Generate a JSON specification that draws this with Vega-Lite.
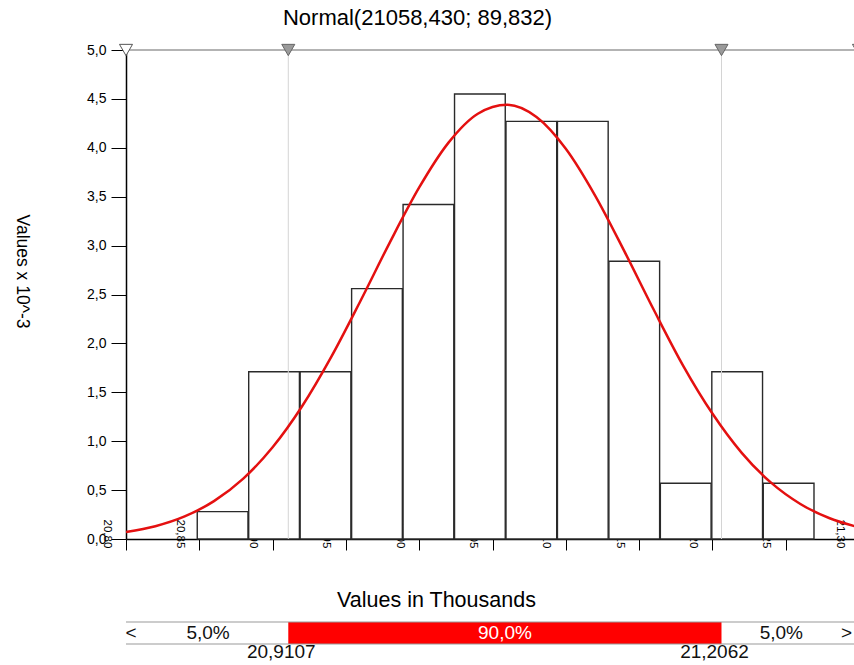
{
  "$schema": "https://vega.github.io/schema/vega-lite/v6.json",
  "padding": {"left": 12, "top": 7, "right": 0, "bottom": 0},
  "background": "white",
  "config": {
    "font": "Liberation Sans",
    "view": {"stroke": null},
    "axis": {"labelColor": "#000", "titleColor": "#000", "domainColor": "#000", "tickColor": "#000", "grid": false, "titleFontWeight": "normal", "labelFont": "Liberation Sans", "titleFont": "Liberation Sans"}
  },
  "spacing": 83,
  "bounds": "flush",
  "vconcat": [
    {
      "width": 733,
      "height": 489,
      "title": {"text": "Normal(21058,430; 89,832)", "fontSize": 22, "fontWeight": "normal", "frame": "group", "anchor": "middle", "dx": -75, "offset": 12, "color": "#000"},
      "layer": [
        {
          "data": {"values": [
            {"x0": 20.8486, "x1": 20.8832, "h": 0.28},
            {"x0": 20.8837, "x1": 20.9183, "h": 1.71},
            {"x0": 20.9188, "x1": 20.9534, "h": 1.71},
            {"x0": 20.9539, "x1": 20.9885, "h": 2.56},
            {"x0": 20.9890, "x1": 21.0236, "h": 3.42},
            {"x0": 21.0241, "x1": 21.0587, "h": 4.55},
            {"x0": 21.0592, "x1": 21.0938, "h": 4.27},
            {"x0": 21.0943, "x1": 21.1289, "h": 4.27},
            {"x0": 21.1294, "x1": 21.1640, "h": 2.84},
            {"x0": 21.1645, "x1": 21.1991, "h": 0.57},
            {"x0": 21.1996, "x1": 21.2342, "h": 1.71},
            {"x0": 21.2347, "x1": 21.2693, "h": 0.57}
          ]},
          "mark": {"type": "rect", "fill": "white", "stroke": "#2a2a2a", "strokeWidth": 1.4},
          "encoding": {
            "x": {"field": "x0", "type": "quantitative", "scale": {"domain": [20.8, 21.3], "nice": false, "zero": false},
              "axis": {
                "values": [20.8, 20.85, 20.9, 20.95, 21, 21.05, 21.1, 21.15, 21.2, 21.25, 21.3],
                "labelExpr": "replace(format(datum.value, '.2f'), '.', ',')",
                "labelAngle": 90, "labelAlign": "left", "labelBaseline": "middle", "labelFontSize": 11.5,
                "labelPadding": -31, "labelOffset": -20, "tickSize": 11,
                "labelOverlap": false, "labelBound": false, "labelFlush": false,
                "title": "Values in Thousands", "titleFontSize": 21.5, "titleX": 310, "titleY": 61,
                "titleBaseline": "middle", "titleAlign": "center", "domainWidth": 1.5
              }},
            "x2": {"field": "x1"},
            "y": {"field": "h", "type": "quantitative", "scale": {"domain": [0, 5], "nice": false},
              "axis": {
                "values": [0, 0.5, 1, 1.5, 2, 2.5, 3, 3.5, 4, 4.5, 5],
                "labelExpr": "replace(format(datum.value, '.1f'), '.', ',')",
                "labelFontSize": 14, "tickSize": 15, "labelPadding": 5,
                "title": "Values x 10^-3", "titleAngle": 90, "titleFontSize": 17.5,
                "titleX": -105, "titleY": 221, "titleAlign": "center", "titleBaseline": "middle",
                "domainWidth": 1.5
              }},
            "y2": {"datum": 0}
          }
        },
        {
          "data": {"values": [{"p": 20.9107}, {"p": 21.2062}]},
          "mark": {"type": "rule", "color": "#d4d4d4", "strokeWidth": 1},
          "encoding": {
            "x": {"field": "p", "type": "quantitative"}
          }
        },
        {
          "data": {"values": [
            {"x": 20.80, "d": 0.0709}, {"x": 20.82, "d": 0.1311}, {"x": 20.84, "d": 0.2310},
            {"x": 20.86, "d": 0.3872}, {"x": 20.88, "d": 0.6177}, {"x": 20.90, "d": 0.9377},
            {"x": 20.92, "d": 1.3547}, {"x": 20.94, "d": 1.8624}, {"x": 20.96, "d": 2.4366},
            {"x": 20.98, "d": 3.0336}, {"x": 21.00, "d": 3.5943}, {"x": 21.02, "d": 4.0527},
            {"x": 21.04, "d": 4.3485}, {"x": 21.06, "d": 4.4403}, {"x": 21.08, "d": 4.3148},
            {"x": 21.10, "d": 3.9901}, {"x": 21.12, "d": 3.5114}, {"x": 21.14, "d": 2.9406},
            {"x": 21.16, "d": 2.3436}, {"x": 21.18, "d": 1.7735}, {"x": 21.20, "d": 1.2828},
            {"x": 21.22, "d": 0.8811}, {"x": 21.24, "d": 0.5759}, {"x": 21.26, "d": 0.3582},
            {"x": 21.28, "d": 0.2121}, {"x": 21.30, "d": 0.1195}
          ]},
          "mark": {"type": "line", "color": "#e41010", "strokeWidth": 2.5, "interpolate": "monotone"},
          "encoding": {
            "x": {"field": "x", "type": "quantitative"},
            "y": {"field": "d", "type": "quantitative"}
          }
        },
        {
          "data": {"values": [{"top": 5}]},
          "mark": {"type": "rule", "color": "#9a9a9a", "strokeWidth": 1.5},
          "encoding": {
            "y": {"field": "top", "type": "quantitative"}
          }
        },
        {
          "data": {"values": [{"x": 20.9107, "y": 5}, {"x": 21.2062, "y": 5}]},
          "mark": {"type": "point", "shape": "triangle-down", "size": 170, "filled": true, "fill": "#9a9a9a", "stroke": "#666", "strokeWidth": 1, "opacity": 1},
          "encoding": {
            "x": {"field": "x", "type": "quantitative"},
            "y": {"field": "y", "type": "quantitative"}
          }
        },
        {
          "data": {"values": [{"x": 20.80, "y": 5}, {"x": 21.30, "y": 5}]},
          "mark": {"type": "point", "shape": "triangle-down", "size": 170, "filled": true, "fill": "white", "stroke": "#555", "strokeWidth": 1, "opacity": 1},
          "encoding": {
            "x": {"field": "x", "type": "quantitative"},
            "y": {"field": "y", "type": "quantitative"}
          }
        }
      ]
    },
    {
      "width": 733,
      "height": 22,
      "layer": [
        {
          "data": {"values": [{"a": 20.9107, "b": 21.2062}]},
          "mark": {"type": "rect", "color": "#ff0000"},
          "encoding": {
            "x": {"field": "a", "type": "quantitative", "scale": {"domain": [20.8, 21.3], "nice": false, "zero": false}, "axis": null},
            "x2": {"field": "b"}
          }
        },
        {
          "data": {"values": [{"y": 0}, {"y": 1}]},
          "mark": {"type": "rule", "color": "#9a9a9a", "strokeWidth": 1.2},
          "encoding": {
            "y": {"field": "y", "type": "quantitative", "scale": {"domain": [0, 1], "nice": false}, "axis": null}
          }
        },
        {
          "data": {"values": [
            {"x": 20.8034, "t": "<"}, {"x": 20.856, "t": "5,0%"}, {"x": 21.247, "t": "5,0%"}, {"x": 21.2915, "t": ">"}
          ]},
          "mark": {"type": "text", "fontSize": 19, "color": "#111", "baseline": "middle", "align": "center"},
          "encoding": {
            "x": {"field": "x", "type": "quantitative", "axis": null},
            "text": {"field": "t"}
          }
        },
        {
          "data": {"values": [{"x": 21.0585, "t": "90,0%"}]},
          "mark": {"type": "text", "fontSize": 19, "color": "white", "baseline": "middle", "align": "center"},
          "encoding": {
            "x": {"field": "x", "type": "quantitative", "axis": null},
            "text": {"field": "t"}
          }
        },
        {
          "data": {"values": [{"x": 20.9107, "t": "20,9107"}, {"x": 21.2062, "t": "21,2062"}]},
          "mark": {"type": "text", "fontSize": 19, "color": "#111", "baseline": "top", "align": "center", "dx": -7, "dy": -1},
          "encoding": {
            "x": {"field": "x", "type": "quantitative", "axis": null},
            "y": {"datum": 0, "type": "quantitative", "axis": null},
            "text": {"field": "t"}
          }
        }
      ]
    }
  ]
}
